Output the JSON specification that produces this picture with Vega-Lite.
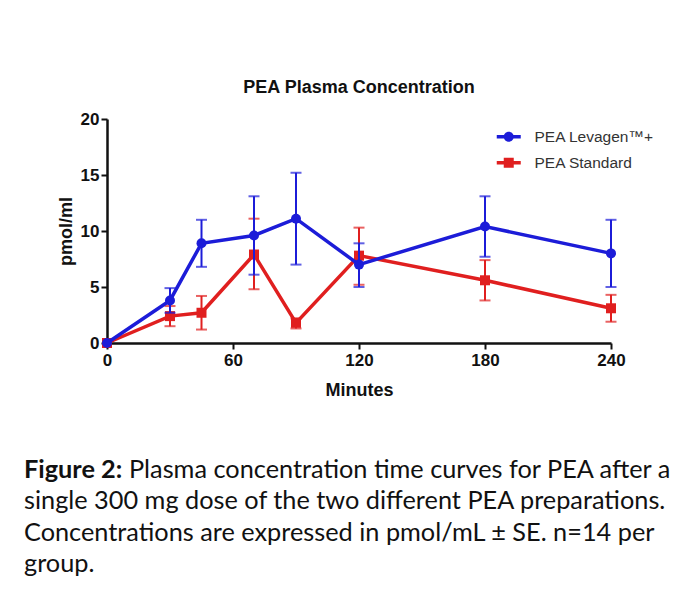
{
  "$schema": "https://vega.github.io/schema/vega-lite/v6.json",
  "background": "white",
  "padding": {"left": 24, "top": 79, "right": 0, "bottom": 0},
  "bounds": "flush",
  "spacing": 127,
  "config": {
    "view": {"stroke": null},
    "axis": {
      "grid": false,
      "labelFlush": false,
      "domainColor": "#111",
      "domainWidth": 2.5,
      "tickColor": "#111",
      "tickWidth": 2,
      "tickSize": 6,
      "labelFont": "Liberation Sans",
      "labelFontWeight": "bold",
      "labelFontSize": 17,
      "labelColor": "#111",
      "titleFont": "Liberation Sans",
      "titleFontWeight": "bold",
      "titleFontSize": 18,
      "titleColor": "#111"
    }
  },
  "datasets": {
    "pk": [
      {"series": "PEA Standard", "t": 0, "v": 0, "lo": 0, "hi": 0},
      {"series": "PEA Standard", "t": 30, "v": 2.4, "lo": 1.5, "hi": 3.3},
      {"series": "PEA Standard", "t": 45, "v": 2.7, "lo": 1.2, "hi": 4.2},
      {"series": "PEA Standard", "t": 70, "v": 7.9, "lo": 4.8, "hi": 11.1},
      {"series": "PEA Standard", "t": 90, "v": 1.8, "lo": 1.3, "hi": 2.2},
      {"series": "PEA Standard", "t": 120, "v": 7.8, "lo": 5.2, "hi": 10.3},
      {"series": "PEA Standard", "t": 180, "v": 5.6, "lo": 3.8, "hi": 7.4},
      {"series": "PEA Standard", "t": 240, "v": 3.1, "lo": 1.9, "hi": 4.3},
      {"series": "PEA Levagen™+", "t": 0, "v": 0, "lo": 0, "hi": 0},
      {"series": "PEA Levagen™+", "t": 30, "v": 3.8, "lo": 2.7, "hi": 4.9},
      {"series": "PEA Levagen™+", "t": 45, "v": 8.9, "lo": 6.8, "hi": 11.0},
      {"series": "PEA Levagen™+", "t": 70, "v": 9.6, "lo": 6.1, "hi": 13.1},
      {"series": "PEA Levagen™+", "t": 90, "v": 11.1, "lo": 7.0, "hi": 15.2},
      {"series": "PEA Levagen™+", "t": 120, "v": 7.0, "lo": 5.0, "hi": 8.9},
      {"series": "PEA Levagen™+", "t": 180, "v": 10.4, "lo": 7.7, "hi": 13.1},
      {"series": "PEA Levagen™+", "t": 240, "v": 8.0, "lo": 5.0, "hi": 11.0}
    ],
    "caption": [
      {"line": 1, "bold": "Figure 2:", "text": "Plasma concentration time curves for PEA after a"},
      {"line": 2, "bold": "", "text": "single 300 mg dose of the two different PEA preparations."},
      {"line": 3, "bold": "", "text": "Concentrations are expressed in pmol/mL ± SE. n=14 per"},
      {"line": 4, "bold": "", "text": "group."}
    ]
  },
  "vconcat": [
    {
      "width": 504,
      "height": 224,
      "title": {
        "text": "PEA Plasma Concentration",
        "font": "Liberation Sans",
        "fontSize": 18,
        "fontWeight": "bold",
        "color": "#111",
        "anchor": "middle",
        "frame": "group",
        "offset": 13
      },
      "data": {"name": "pk"},
      "encoding": {
        "x": {
          "field": "t",
          "type": "quantitative",
          "title": "Minutes",
          "scale": {"domain": [0, 240], "nice": false},
          "axis": {"values": [0, 60, 120, 180, 240], "labelPadding": 3, "titlePadding": 13}
        }
      },
      "layer": [
        {
          "transform": [{"filter": "datum.series === 'PEA Standard' && datum.t > 0"}],
          "mark": {"type": "errorbar", "ticks": {"size": 11}, "thickness": 2, "color": "#e01f1f"},
          "encoding": {
            "y": {"field": "lo", "type": "quantitative", "title": "pmol/ml", "scale": {"domain": [0, 20], "nice": false},
                  "axis": {"values": [0, 5, 10, 15, 20], "labelPadding": 2, "titlePadding": 5}},
            "y2": {"field": "hi"}
          }
        },
        {
          "transform": [{"filter": "datum.series === 'PEA Standard'"}],
          "mark": {"type": "line", "color": "#e01f1f", "strokeWidth": 3.5},
          "encoding": {"y": {"field": "v", "type": "quantitative", "title": "pmol/ml"}}
        },
        {
          "transform": [{"filter": "datum.series === 'PEA Standard'"}],
          "mark": {"type": "point", "shape": "square", "filled": true, "opacity": 1, "size": 100, "color": "#e01f1f"},
          "encoding": {"y": {"field": "v", "type": "quantitative", "title": "pmol/ml"}}
        },
        {
          "transform": [{"filter": "datum.series === 'PEA Levagen™+' && datum.t > 0"}],
          "mark": {"type": "errorbar", "ticks": {"size": 11}, "thickness": 2, "color": "#1c1cd8"},
          "encoding": {
            "y": {"field": "lo", "type": "quantitative", "title": "pmol/ml"},
            "y2": {"field": "hi"}
          }
        },
        {
          "transform": [{"filter": "datum.series === 'PEA Levagen™+'"}],
          "mark": {"type": "line", "color": "#1c1cd8", "strokeWidth": 3.5},
          "encoding": {"y": {"field": "v", "type": "quantitative", "title": "pmol/ml"}}
        },
        {
          "transform": [{"filter": "datum.series === 'PEA Levagen™+'"}],
          "mark": {"type": "point", "shape": "circle", "filled": true, "opacity": 1, "size": 100, "color": "#1c1cd8"},
          "encoding": {"y": {"field": "v", "type": "quantitative", "title": "pmol/ml"}}
        },
        {
          "transform": [{"filter": "false"}],
          "mark": {"type": "point", "filled": true, "opacity": 1},
          "encoding": {
            "color": {
              "field": "series",
              "type": "nominal",
              "scale": {"domain": ["PEA Levagen™+", "PEA Standard"], "range": ["#1c1cd8", "#e01f1f"]},
              "legend": {"orient": "none", "legendX": 394, "legendY": 10, "title": null, "labelFont": "Liberation Sans", "labelFontSize": 15.5, "labelColor": "#333", "symbolSize": 100, "labelOffset": 18, "rowPadding": 9, "symbolStrokeWidth": 0, "symbolOpacity": 1}
            },
            "shape": {
              "field": "series",
              "type": "nominal",
              "scale": {"domain": ["PEA Levagen™+", "PEA Standard"], "range": ["M-2.4,-0.35H2.4V0.35H-2.4Z M1,0A1,1 0 1,1 -1,0A1,1 0 1,1 1,0Z", "M-2.4,-0.35H2.4V0.35H-2.4Z M-1,-1H1V1H-1Z"]},
              "legend": {"orient": "none", "legendX": 394, "legendY": 10, "title": null, "labelFont": "Liberation Sans", "labelFontSize": 15.5, "labelColor": "#333", "symbolSize": 100, "labelOffset": 18, "rowPadding": 9, "symbolStrokeWidth": 0, "symbolOpacity": 1}
            }
          }
        }
      ]
    },
    {
      "width": 560,
      "height": 94,
      "data": {"name": "caption"},
      "encoding": {
        "x": {"datum": 0, "type": "quantitative", "scale": {"domain": [0, 1]}, "axis": null},
        "y": {"field": "line", "type": "quantitative", "scale": {"domain": [1, 4], "range": [0, 94]}, "axis": null}
      },
      "layer": [
        {
          "transform": [{"filter": "datum.line === 1"}],
          "mark": {"type": "text", "align": "left", "baseline": "middle", "font": "Lato", "fontSize": 25.3, "fontWeight": "bold", "color": "#111", "dx": -83},
          "encoding": {"text": {"field": "bold"}}
        },
        {
          "transform": [{"filter": "datum.line === 1"}],
          "mark": {"type": "text", "align": "left", "baseline": "middle", "font": "Lato", "fontSize": 25.3, "color": "#111", "dx": 22},
          "encoding": {"text": {"field": "text"}}
        },
        {
          "transform": [{"filter": "datum.line > 1"}],
          "mark": {"type": "text", "align": "left", "baseline": "middle", "font": "Lato", "fontSize": 25.3, "color": "#111", "dx": -83},
          "encoding": {"text": {"field": "text"}}
        }
      ]
    }
  ]
}
